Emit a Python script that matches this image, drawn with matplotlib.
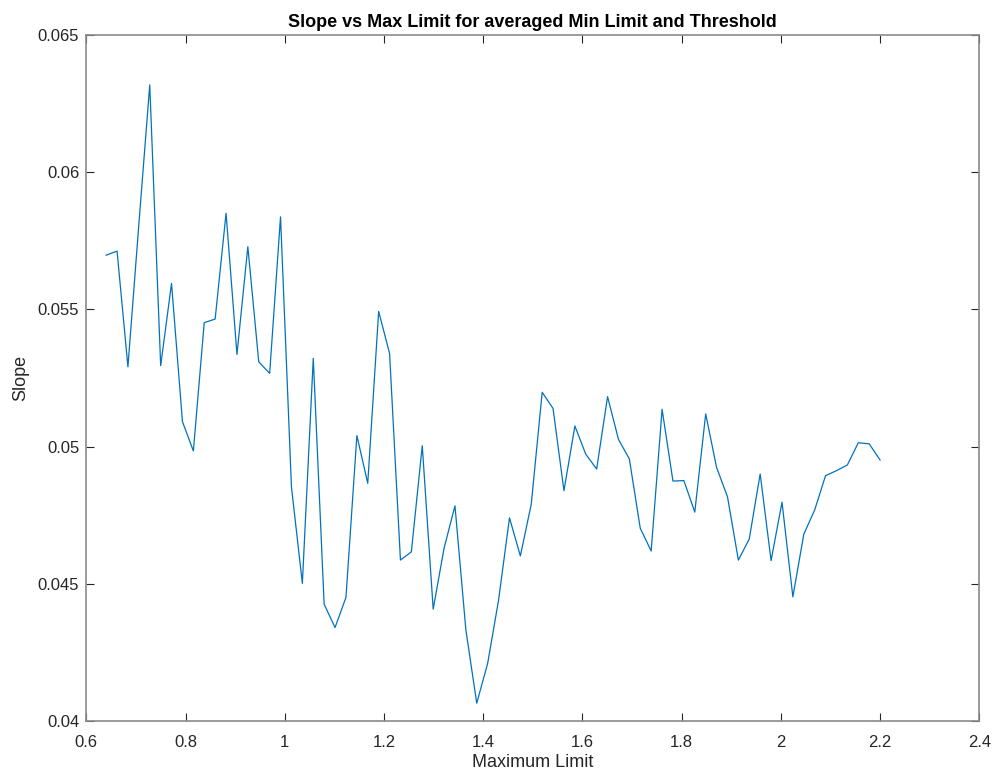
import matplotlib
matplotlib.use("Agg")
import matplotlib.pyplot as plt
from matplotlib.ticker import FixedLocator, FixedFormatter

plt.rcParams['font.family'] = ['Liberation Sans', 'DejaVu Sans']

# Maximum limit values (x) and the averaged slope at each one (y)
max_limit = [
    0.6400, 0.6620, 0.6839, 0.7059, 0.7279, 0.7499, 0.7718, 0.7938, 0.8158, 0.8377,
    0.8597, 0.8817, 0.9037, 0.9256, 0.9476, 0.9696, 0.9915, 1.0135, 1.0355, 1.0575,
    1.0794, 1.1014, 1.1234, 1.1454, 1.1673, 1.1893, 1.2113, 1.2332, 1.2552, 1.2772,
    1.2992, 1.3211, 1.3431, 1.3651, 1.3870, 1.4090, 1.4310, 1.4530, 1.4749, 1.4969,
    1.5189, 1.5408, 1.5628, 1.5848, 1.6068, 1.6287, 1.6507, 1.6727, 1.6946, 1.7166,
    1.7386, 1.7606, 1.7825, 1.8045, 1.8265, 1.8485, 1.8704, 1.8924, 1.9144, 1.9363,
    1.9583, 1.9803, 2.0023, 2.0242, 2.0462, 2.0682, 2.0901, 2.1121, 2.1341, 2.1561,
    2.1780, 2.2000,
]
slope = [
    0.05698, 0.05713, 0.05291, 0.05810, 0.06319, 0.05295, 0.05595, 0.05091, 0.04984, 0.05452,
    0.05465, 0.05851, 0.05336, 0.05729, 0.05309, 0.05267, 0.05838, 0.04853, 0.04501, 0.05322,
    0.04425, 0.04340, 0.04450, 0.05040, 0.04866, 0.05493, 0.05340, 0.04586, 0.04616, 0.05003,
    0.04407, 0.04629, 0.04784, 0.04331, 0.04064, 0.04209, 0.04440, 0.04740, 0.04601, 0.04790,
    0.05198, 0.05139, 0.04839, 0.05075, 0.04972, 0.04918, 0.05182, 0.05026, 0.04955, 0.04702,
    0.04619, 0.05136, 0.04874, 0.04876, 0.04761, 0.05119, 0.04924, 0.04817, 0.04586, 0.04663,
    0.04900, 0.04584, 0.04797, 0.04452, 0.04680, 0.04769, 0.04894, 0.04912, 0.04933, 0.05014,
    0.05010, 0.04951,
]

x_ticks = [0.6, 0.8, 1.0, 1.2, 1.4, 1.6, 1.8, 2.0, 2.2, 2.4]
x_tick_labels = ["0.6", "0.8", "1", "1.2", "1.4", "1.6", "1.8", "2", "2.2", "2.4"]
y_ticks = [0.04, 0.045, 0.05, 0.055, 0.06, 0.065]
y_tick_labels = ["0.04", "0.045", "0.05", "0.055", "0.06", "0.065"]

axis_color = "#262626"
line_color = "#0072BD"

fig = plt.figure(figsize=(9.92, 7.71), dpi=100)
ax = fig.add_axes([0.087, 0.0652, 0.9002, 0.889])

ax.plot(max_limit, slope, color=line_color, linewidth=0.9)

ax.set_xlim(0.6, 2.4)
ax.set_ylim(0.04, 0.065)
ax.xaxis.set_major_locator(FixedLocator(x_ticks))
ax.xaxis.set_major_formatter(FixedFormatter(x_tick_labels))
ax.yaxis.set_major_locator(FixedLocator(y_ticks))
ax.yaxis.set_major_formatter(FixedFormatter(y_tick_labels))

ax.tick_params(axis='both', which='major', direction='in', length=6, width=0.8,
               colors=axis_color, labelsize=12, top=True, right=True)
ax.tick_params(axis='x', pad=10)
ax.tick_params(axis='y', pad=5)
for label in ax.get_yticklabels():
    label.set_verticalalignment('center_baseline')
for spine in ax.spines.values():
    spine.set_color("#8a8a8a")
    spine.set_linewidth(1.2)

ax.set_xlabel("Maximum Limit", fontsize=13, color=axis_color, labelpad=3)
ax.set_ylabel("Slope", fontsize=13, color=axis_color, labelpad=6)
ax.set_title("Slope vs Max Limit for averaged Min Limit and Threshold",
             fontsize=13, fontweight='bold', color='black', pad=6)

fig.savefig("out.png", dpi=100)
